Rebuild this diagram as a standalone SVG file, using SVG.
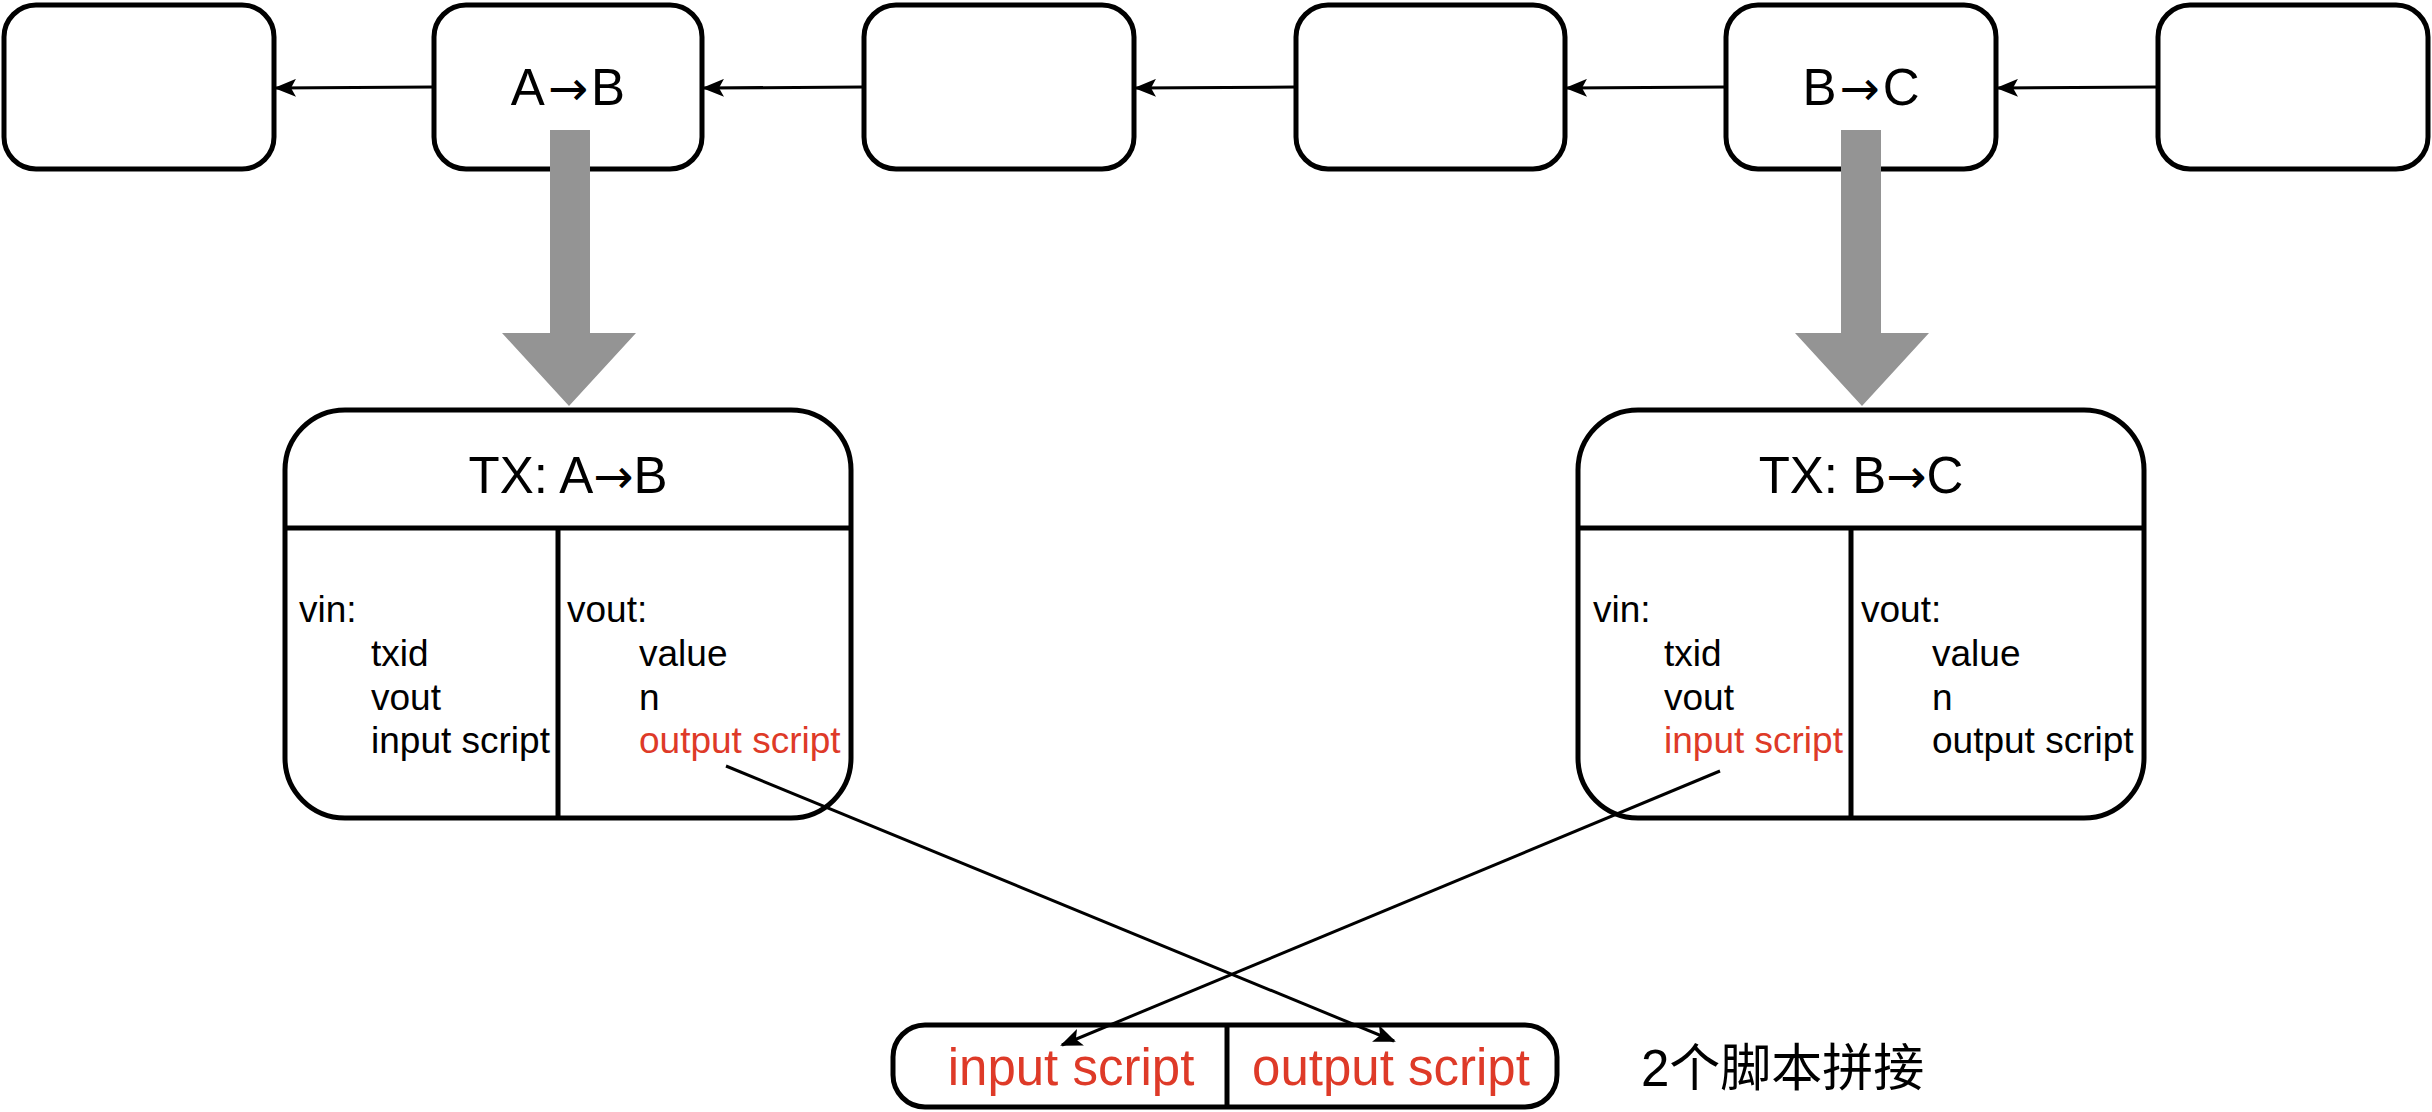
<svg xmlns="http://www.w3.org/2000/svg" width="2432" height="1112" viewBox="0 0 2432 1112">
<style>
  .box { fill: #ffffff; stroke: #000000; stroke-width: 5; }
  .div { stroke: #000000; stroke-width: 5; fill: none; }
  .conn { stroke: #000000; stroke-width: 3; fill: none; }
  .big { fill: #949494; stroke: none; }
  .t { font-family: "Liberation Sans", Arial, "Noto Sans CJK SC", sans-serif; fill: #000000; }
  .lbl { font-size: 51px; text-anchor: middle; }
  .ar { font-family: "DejaVu Sans", sans-serif; font-size: 48px; }
  .body { font-size: 37px; }
  .red { fill: #DE3A28; }
  .cjk { font-family: "Liberation Sans", "Noto Sans CJK SC", sans-serif; font-size: 51px; }
</style>
<defs>
  <marker id="arr" markerUnits="userSpaceOnUse" markerWidth="22" markerHeight="18" viewBox="0 0 22 18" refX="20" refY="9" orient="auto">
    <path d="M0,0 L22,9 L0,18 L5,9 Z" fill="#000000"/>
  </marker>
</defs>

<g id="block1"><rect class="box" x="4" y="5" width="270" height="164" rx="32"/></g>
<g id="block2"><rect class="box" x="434" y="5" width="268" height="164" rx="32"/>
  <text class="t lbl" x="568" y="105">A<tspan class="ar" dx="3">→</tspan><tspan dx="3">B</tspan></text></g>
<g id="block3"><rect class="box" x="864" y="5" width="270" height="164" rx="32"/></g>
<g id="block4"><rect class="box" x="1296" y="5" width="269" height="164" rx="32"/></g>
<g id="block5"><rect class="box" x="1726" y="5" width="270" height="164" rx="32"/>
  <text class="t lbl" x="1861" y="105">B<tspan class="ar" dx="3">→</tspan><tspan dx="3">C</tspan></text></g>
<g id="block6"><rect class="box" x="2158" y="5" width="270" height="164" rx="32"/></g>

<g id="big-arrows">
  <polygon class="big" points="550,130 590,130 590,333 636,333 569,406 502,333 550,333"/>
  <polygon class="big" points="1841,130 1881,130 1881,333 1929,333 1862,406 1795,333 1841,333"/>
</g>

<g id="tx-ab">
  <rect class="box" x="285" y="410" width="566" height="408" rx="60"/>
  <line class="div" x1="285" y1="528" x2="851" y2="528"/>
  <line class="div" x1="558" y1="528" x2="558" y2="818"/>
  <text class="t lbl" x="568" y="493">TX: A<tspan class="ar">→</tspan>B</text>
  <text class="t body" x="299" y="622">vin:</text>
  <text class="t body" x="371" y="666">txid</text>
  <text class="t body" x="371" y="710">vout</text>
  <text class="t body" x="371" y="753">input script</text>
  <text class="t body" x="567" y="622">vout:</text>
  <text class="t body" x="639" y="666">value</text>
  <text class="t body" x="639" y="710">n</text>
  <text class="t body red" x="639" y="753">output script</text>
</g>

<g id="tx-bc">
  <rect class="box" x="1578" y="410" width="566" height="408" rx="60"/>
  <line class="div" x1="1578" y1="528" x2="2144" y2="528"/>
  <line class="div" x1="1851" y1="528" x2="1851" y2="818"/>
  <text class="t lbl" x="1861" y="493">TX: B<tspan class="ar">→</tspan>C</text>
  <text class="t body" x="1593" y="622">vin:</text>
  <text class="t body" x="1664" y="666">txid</text>
  <text class="t body" x="1664" y="710">vout</text>
  <text class="t body red" x="1664" y="753">input script</text>
  <text class="t body" x="1861" y="622">vout:</text>
  <text class="t body" x="1932" y="666">value</text>
  <text class="t body" x="1932" y="710">n</text>
  <text class="t body" x="1932" y="753">output script</text>
</g>

<g id="combined">
  <rect class="box" x="893" y="1025" width="664" height="82" rx="32"/>
  <line class="div" x1="1227" y1="1025" x2="1227" y2="1107"/>
  <text class="t lbl red" x="1071" y="1085">input script</text>
  <text class="t lbl red" x="1391" y="1085">output script</text>
</g>

<g id="caption">
  <text class="t cjk" x="1641" y="1086">2个脚本拼接</text>
</g>

<g id="connectors">
  <line class="conn" x1="434" y1="87" x2="276" y2="88" marker-end="url(#arr)"/>
  <line class="conn" x1="864" y1="87" x2="704" y2="88" marker-end="url(#arr)"/>
  <line class="conn" x1="1296" y1="87" x2="1136" y2="88" marker-end="url(#arr)"/>
  <line class="conn" x1="1726" y1="87" x2="1567" y2="88" marker-end="url(#arr)"/>
  <line class="conn" x1="2158" y1="87" x2="1998" y2="88" marker-end="url(#arr)"/>
  <line class="conn" x1="726" y1="766" x2="1394" y2="1041" marker-end="url(#arr)"/>
  <line class="conn" x1="1720" y1="771" x2="1062" y2="1045" marker-end="url(#arr)"/>
</g>
</svg>
